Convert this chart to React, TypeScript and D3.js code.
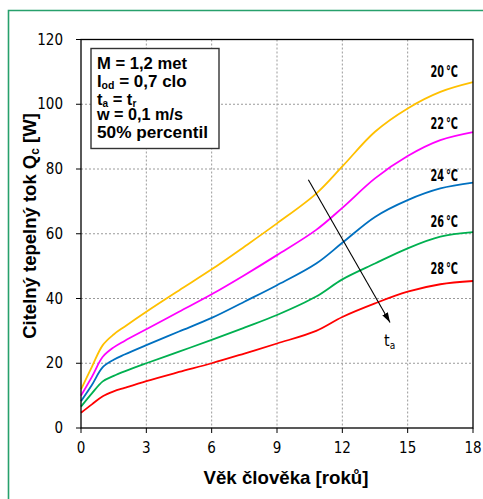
import React from "react";
import * as d3 from "d3";

// Age of the person [years]
const ages = [0, 0.5, 1, 1.5, 2, 3, 4.5, 6, 7.5, 9, 10.8, 12, 13.5, 15, 16.5, 18];

// Sensible heat flow Q_c [W] for each air temperature
const q20 = [11.9, 18.9, 25.6, 28.9, 31.3, 35.9, 42.5, 49.0, 56.0, 63.2, 72.4, 80.8, 91.5, 98.7, 103.8, 106.8];
const q22 = [10.0, 15.8, 22.0, 24.9, 26.9, 30.5, 35.9, 41.3, 47.2, 53.4, 61.2, 68.0, 77.1, 84.0, 88.9, 91.4];
const q24 = [8.3, 13.3, 18.8, 21.1, 22.7, 25.6, 29.8, 34.0, 39.0, 44.1, 50.8, 57.2, 65.2, 70.4, 74.0, 75.8];
const q26 = [6.6, 10.7, 14.4, 16.1, 17.5, 20.0, 23.6, 27.2, 31.0, 34.9, 40.6, 45.9, 50.8, 55.5, 59.1, 60.5];
const q28 = [4.7, 7.3, 9.8, 11.3, 12.4, 14.5, 17.3, 20.0, 23.0, 26.1, 30.0, 34.3, 38.5, 42.1, 44.4, 45.4];

const seriesNames = ["20\u2009°C", "22\u2009°C", "24\u2009°C", "26\u2009°C", "28\u2009°C"];
const seriesValues = [q20, q22, q24, q26, q28];
const seriesColors = ["#FFC000", "#FF00FF", "#0070C0", "#00B050", "#FF0000"];

const xTicks = [0, 3, 6, 9, 12, 15, 18];
const yTicks = [0, 20, 40, 60, 80, 100, 120];

// Direction of rising air temperature t_a (start and end in data units)
const arrowFrom = [10.44, 76.7];
const arrowTo = [14.19, 32.6];

const W = 483;
const H = 499;
const left = 81;
const right = 473;
const top = 39.5;
const bottom = 428;

const narrow = "'Liberation Sans Narrow', 'DejaVu Sans Condensed', 'Arial Narrow', sans-serif";
const sans = "'Liberation Sans', Arial, sans-serif";

export default function App() {
  const x = d3.scaleLinear().domain([0, 18]).range([left, right]);
  const y = d3.scaleLinear().domain([0, 120]).range([bottom, top]);

  const line = d3
    .line<number>()
    .x((_, i) => x(ages[i]))
    .y((d) => y(d))
    .curve(d3.curveCatmullRom.alpha(0.5));

  const labelBaselines = [76.5, 129, 180.5, 227, 273.5];

  return (
    <svg
      width={W}
      height={H}
      style={{ position: "absolute", left: 0, top: 0, background: "#fff" }}
    >
      <defs>
        <marker
          id="arrowHead"
          viewBox="0 0 10 10"
          refX="10"
          refY="5"
          markerWidth="10"
          markerHeight="10"
          markerUnits="userSpaceOnUse"
          orient="auto"
        >
          <path d="M0,1.8 L10,5 L0,8.2 Z" fill="#000" />
        </marker>
      </defs>

      {/* outer frame */}
      <path d={`M8.5,${H + 5} L8.5,10.5 L${W + 5},10.5`} fill="none" stroke="#27a06c" strokeWidth={1.6} />

      {/* grid */}
      {xTicks.slice(1, -1).map((t) => (
        <line key={"gx" + t} x1={x(t)} x2={x(t)} y1={top} y2={bottom} stroke="#9a9a9a" strokeWidth={1} strokeDasharray="2,2" />
      ))}
      {yTicks.slice(1, -1).map((t) => (
        <line key={"gy" + t} x1={left} x2={right} y1={y(t)} y2={y(t)} stroke="#9a9a9a" strokeWidth={1} strokeDasharray="2,2" />
      ))}

      {/* series */}
      {seriesValues.map((vals, i) => (
        <path key={seriesNames[i]} d={line(vals) || ""} fill="none" stroke={seriesColors[i]} strokeWidth={1.8} />
      ))}

      {/* plot frame */}
      <rect x={left} y={top} width={right - left} height={bottom - top} fill="none" stroke="#000" strokeWidth={1.3} />

      {/* ticks */}
      {xTicks.map((t) => (
        <g key={"tx" + t}>
          <line x1={x(t)} x2={x(t)} y1={bottom} y2={bottom + 5} stroke="#000" strokeWidth={1} />
          <text x={x(t)} y={453} textAnchor="middle" fontFamily={narrow} fontSize={15} fill="#000">
            {t}
          </text>
        </g>
      ))}
      {yTicks.map((t) => (
        <g key={"ty" + t}>
          <line x1={left - 5} x2={left} y1={y(t)} y2={y(t)} stroke="#000" strokeWidth={1} />
          <text x={63} y={y(t) + 5} textAnchor="end" fontFamily={narrow} fontSize={15} fill="#000">
            {t}
          </text>
        </g>
      ))}

      {/* series labels */}
      {seriesNames.map((n, i) => (
        <text
          key={"l" + n}
          x={430.5}
          y={labelBaselines[i]}
          textLength={27.5}
          lengthAdjust="spacingAndGlyphs"
          fontFamily={narrow}
          fontWeight="bold"
          fontSize={15}
          fill="#000"
        >
          {n}
        </text>
      ))}

      {/* temperature arrow */}
      <line
        x1={x(arrowFrom[0])}
        y1={y(arrowFrom[1])}
        x2={x(arrowTo[0])}
        y2={y(arrowTo[1])}
        stroke="#000"
        strokeWidth={1.1}
        markerEnd="url(#arrowHead)"
      />
      <text x={384} y={346} fontFamily={narrow} fontSize={16} fill="#000">
        t<tspan fontSize={10} dy={3}>a</tspan>
      </text>

      {/* conditions box */}
      <rect x={91} y={48.5} width={128} height={100} fill="#fff" stroke="#333" strokeWidth={1.4} />
      <g fontFamily={sans} fontWeight="bold" fontSize={16.5} fill="#000">
        <text x={97} y={68.5} textLength={90} lengthAdjust="spacingAndGlyphs">M = 1,2 met</text>
        <text x={97} y={86.5}>
          I<tspan fontSize={10.5} dy={2}>od</tspan>
          <tspan dy={-2} fontSize={17}> = 0,7 clo</tspan>
        </text>
        <text x={97} y={104.5}>
          t<tspan fontSize={10} dy={2}>a</tspan>
          <tspan dy={-2}> = t</tspan>
          <tspan fontSize={10} dy={2}>r</tspan>
        </text>
        <text x={97} y={120} textLength={86} lengthAdjust="spacingAndGlyphs">w = 0,1 m/s</text>
        <text x={97} y={137.5} textLength={111} lengthAdjust="spacingAndGlyphs">50% percentil</text>
      </g>

      {/* axis titles */}
      <text x={286} y={484} textAnchor="middle" fontFamily={sans} fontWeight="bold" fontSize={18.5} textLength={165} lengthAdjust="spacingAndGlyphs" fill="#000">
        Věk člověka [roků]
      </text>
      <text
        transform={`translate(36,226) rotate(-90)`}
        textAnchor="middle"
        fontFamily={sans}
        fontWeight="bold"
        fontSize={18.5}
        fill="#000"
      >
        Citelný tepelný tok Q<tspan fontSize={12} dy={3}>c</tspan>
        <tspan dy={-3}> [W]</tspan>
      </text>
    </svg>
  );
}
